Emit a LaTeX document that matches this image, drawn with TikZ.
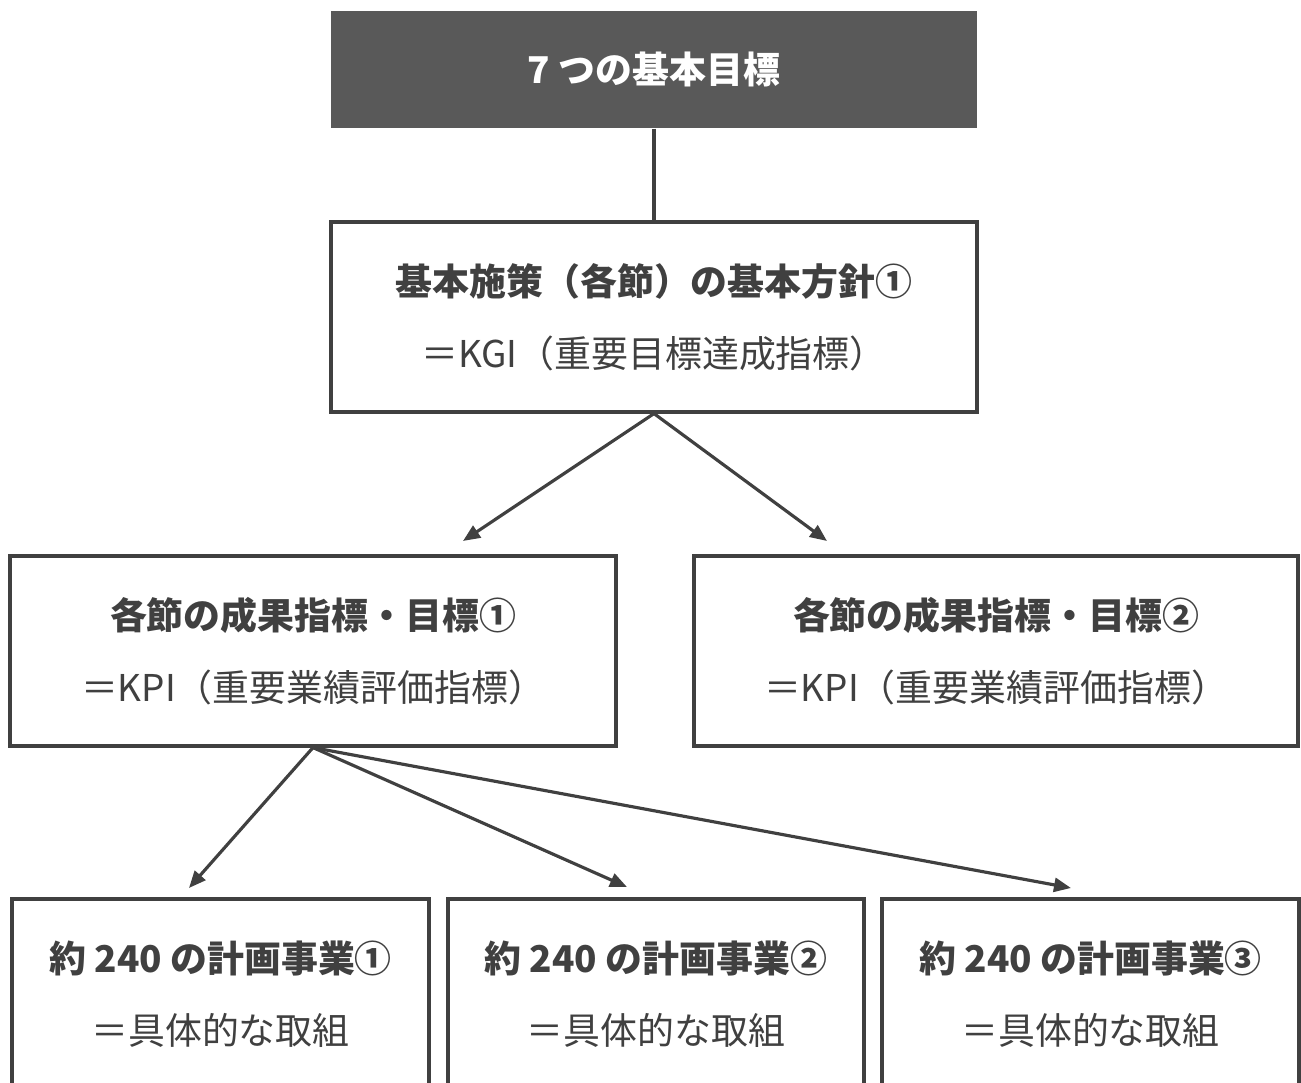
\documentclass[tikz,border=0pt]{standalone}
\usepackage{fontspec}
\setmainfont{Noto Sans CJK JP}
\usetikzlibrary{arrows.meta}
\definecolor{ink}{HTML}{404040}
\definecolor{head}{HTML}{595959}

\begin{document}
\begin{tikzpicture}[
		font=\fontsize{10.5}{20.5}\selectfont,
		goalbox/.style={fill=head, text=white, inner sep=0pt, minimum width=6.46cm, minimum height=1.17cm, font=\fontsize{10.5}{20.5}\selectfont\bfseries},
		box/.style={draw=ink, line width=0.9pt, fill=white, text=ink, align=center, inner sep=0pt, minimum height=1.9cm},
		link/.style={draw=ink, line width=0.9pt, -{Triangle[length=0.17cm, width=0.14cm]}},
	]
		\clip (0,0) rectangle (13.01,-10.83);
		%\draw (0,0) rectangle (13.01,-10.83);
		\draw (6.54,0) ++ (0,-0.695) node[goalbox] (goal) {7 つの基本目標};
		\draw (6.54,0) ++ (0,-3.17) node[box, minimum width=6.46cm] (policy) {\textbf{基本施策（各節）の基本方針①}\\＝KGI（重要目標達成指標）};
		\draw [ink, line width=0.9pt] (goal.south) -- (policy.north);
		%
		\draw (3.13,0) ++ (0,-6.51) node[box, minimum width=6.06cm] (kpi1) {\textbf{各節の成果指標・目標①}\\＝KPI（重要業績評価指標）};
		\draw (9.96,0) ++ (0,-6.51) node[box, minimum width=6.04cm] (kpi2) {\textbf{各節の成果指標・目標②}\\＝KPI（重要業績評価指標）};
		\coordinate (tkpi1) at (4.63,-5.41);
		\coordinate (tkpi2) at (8.27,-5.41);
		\draw [link] (policy.south) -- (tkpi1);
		\draw [link] (policy.south) -- (tkpi2);
		%
		\draw (2.205,0) ++ (0,-9.94) node[box, minimum width=4.17cm] (plan1) {\textbf{約 240 の計画事業①}\\＝具体的な取組};
		\draw (6.56,0) ++ (0,-9.94) node[box, minimum width=4.16cm] (plan2) {\textbf{約 240 の計画事業②}\\＝具体的な取組};
		\draw (10.905,0) ++ (0,-9.94) node[box, minimum width=4.17cm] (plan3) {\textbf{約 240 の計画事業③}\\＝具体的な取組};
		\coordinate (tplan1) at (1.89,-8.88);
		\coordinate (tplan2) at (6.27,-8.87);
		\coordinate (tplan3) at (10.71,-8.88);
		\draw [link] (kpi1.south) -- (tplan1);
		\draw [link] (kpi1.south) -- (tplan2);
		\draw [link] (kpi1.south) -- (tplan3);
	\end{tikzpicture}
\end{document}
